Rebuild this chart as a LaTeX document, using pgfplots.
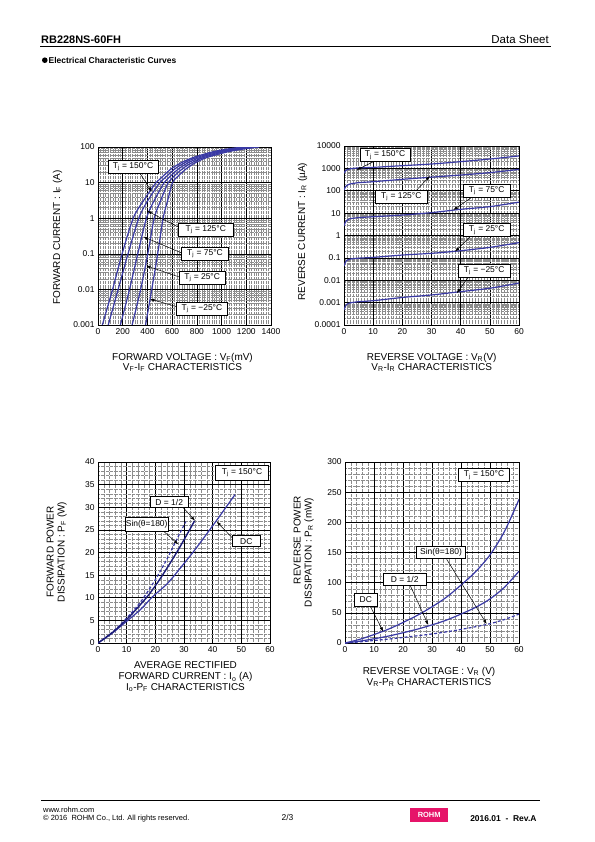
\documentclass[border=0pt]{standalone}
\usepackage{fontspec}
\setmainfont{Liberation Sans}
\usepackage{pgfplots}
\pgfplotsset{compat=1.18}
\usetikzlibrary{arrows.meta}
\definecolor{cv}{RGB}{58,58,165}
\definecolor{cvd}{RGB}{28,28,120}
\definecolor{rohm}{RGB}{230,20,105}
\pgfplotsset{
 ds/.style={
  scale only axis, anchor=south west,
  axis line style={line width=0.8pt},
  grid=both,
  major grid style={black,line width=0.55pt},
  minor grid style={black!45,line width=0.3pt,densely dotted},
  major tick length=0pt, minor tick length=0pt,
  ticklabel style={font=\fontsize{8.5}{10}\selectfont},
  /pgf/number format/assume math mode=true,
  /pgf/number format/1000 sep={},
 }
}
\tikzset{
 arr/.style={-{Latex[length=4.5pt,width=3.2pt]},line width=0.5pt},
 bx/.style={draw=black,fill=white,line width=0.6pt,inner sep=0pt,font=\fontsize{8.5}{10}\selectfont},
 lb/.style={inner sep=0pt,font=\fontsize{10}{11}\selectfont},
 cu/.style={cv,line width=1.2pt,smooth},
}
\begin{document}
\begin{tikzpicture}
\fill[white] (0,0) rectangle (595bp,-842bp);
\useasboundingbox (0,0) rectangle (595bp,-842bp);

% ---------- VF-IF ----------
\begin{axis}[ds, at={(98bp,-325bp)}, width=173bp, height=178bp,
 xmin=0,xmax=1400, ymode=log, ymin=0.001,ymax=100,
 xtick={0,200,400,600,800,1000,1200,1400}, minor x tick num=9,
 ytick={0.001,0.01,0.1,1,10,100}, yticklabels={0.001,0.01,0.1,1,10,100},
 minor ytick={2e-3,3e-3,4e-3,5e-3,6e-3,7e-3,8e-3,9e-3,2e-2,3e-2,4e-2,5e-2,6e-2,7e-2,8e-2,9e-2,0.2,0.3,0.4,0.5,0.6,0.7,0.8,0.9,2,3,4,5,6,7,8,9,20,30,40,50,60,70,80,90}]
\addplot[cu] coordinates {(35,0.001)(118,0.01)(195,0.1)(285,1)(365,3)(470,10)(515,14)(610,27)(745,47)(920,72)(1050,88)(1170,100)};
\addplot[cu] coordinates {(83,0.001)(163,0.01)(243,0.1)(330,1)(400,3)(500,10)(545,14)(640,27)(772,47)(950,72)(1085,88)(1205,100)};
\addplot[cu] coordinates {(181,0.001)(255,0.01)(322,0.1)(392,1)(452,3)(535,10)(575,14)(670,27)(800,47)(980,72)(1118,88)(1240,100)};
\addplot[cu] coordinates {(276,0.001)(345,0.01)(403,0.1)(455,1)(505,3)(568,10)(605,14)(700,27)(828,47)(1010,72)(1150,88)(1272,100)};
\addplot[cu] coordinates {(385,0.001)(435,0.01)(483,0.1)(527,1)(562,3)(603,10)(638,14)(730,27)(855,47)(1040,72)(1180,88)(1305,100)};
\end{axis}

% ---------- VR-IR ----------
\begin{axis}[ds, at={(344bp,-325bp)}, width=175bp, height=179bp,
 xmin=0,xmax=60, ymode=log, ymin=0.0001,ymax=10000,
 xtick={0,10,...,60}, minor x tick num=9,
 ytick={0.0001,0.001,0.01,0.1,1,10,100,1000,10000}, yticklabels={0.0001,0.001,0.01,0.1,1,10,100,1000,10000},
 minor ytick={2e-4,3e-4,4e-4,5e-4,6e-4,7e-4,8e-4,9e-4,2e-3,3e-3,4e-3,5e-3,6e-3,7e-3,8e-3,9e-3,2e-2,3e-2,4e-2,5e-2,6e-2,7e-2,8e-2,9e-2,0.2,0.3,0.4,0.5,0.6,0.7,0.8,0.9,2,3,4,5,6,7,8,9,20,30,40,50,60,70,80,90,200,300,400,500,600,700,800,900,2000,3000,4000,5000,6000,7000,8000,9000}]
\addplot[cu] coordinates {(0,600)(0.5,780)(1,870)(2,950)(5,1050)(10,1110)(20,1320)(30,1570)(40,2000)(50,2620)(60,3600)};
\addplot[cu] coordinates {(0,108)(0.5,150)(1,175)(2,200)(5,230)(10,254)(20,324)(30,405)(40,505)(50,645)(60,900)};
\addplot[cu] coordinates {(0,2.65)(0.5,4)(1,4.8)(2,5.6)(5,6.3)(10,6.9)(20,8.2)(30,10.5)(40,14.8)(50,19.5)(60,31)};
\addplot[cu] coordinates {(0,0.043)(0.5,0.065)(1,0.078)(2,0.088)(5,0.097)(10,0.105)(20,0.134)(30,0.16)(40,0.209)(50,0.295)(60,0.48)};
\addplot[cu] coordinates {(0,0.00047)(0.5,0.0007)(1,0.00085)(2,0.00097)(5,0.0011)(10,0.00122)(20,0.0017)(30,0.0022)(40,0.0031)(50,0.0044)(60,0.0075)};
\end{axis}

% ---------- Io-PF ----------
\begin{axis}[ds, at={(98bp,-643bp)}, width=172bp, height=181bp,
 xmin=0,xmax=60, ymin=0,ymax=40,
 xtick={0,10,...,60}, ytick={0,5,...,40}, minor x tick num=4, minor y tick num=4]
\addplot[cu] coordinates {(0,0)(5,2.2)(10,4.8)(15,7.5)(19,10.2)(24,13)(28,16)(33.8,20.6)(40.8,26.6)(47.8,32.8)};
\addplot[cu,densely dashed] coordinates {(0,0)(5,2.4)(10,5.5)(15,9.2)(20,14)(24,18.5)(27,22.3)(30.6,26.8)};
\addplot[cu,cvd,line width=1.4pt] coordinates {(0,0)(5,2.3)(10,5.2)(14.1,8)(18,10.9)(22.2,14.7)(28,20.6)(33.7,27)};
\end{axis}

% ---------- VR-PR ----------
\begin{axis}[ds, at={(345bp,-643bp)}, width=174bp, height=181bp,
 xmin=0,xmax=60, ymin=0,ymax=300,
 xtick={0,10,...,60}, ytick={0,50,...,300}, minor x tick num=4, minor y tick num=4]
\addplot[cu] coordinates {(0,0)(5,6)(10,14)(15,23)(20,34)(25,46)(30,60)(35,76)(40,96)(45,118)(50,146)(55,185)(60,238)};
\addplot[cu] coordinates {(0,0)(5,3)(10,7)(15,11.5)(20,17)(25,23)(30,30)(35,38)(40,48)(45,59)(50,73)(55,92.5)(60,119)};
\addplot[cu,densely dashed] coordinates {(0,0)(5,1.8)(10,4.2)(15,6.5)(20,9.2)(25,12)(30,15)(35,18.5)(40,22.5)(45,27)(50,32)(55,39)(60,48)};
\end{axis}

\begin{scope}[x=1bp,y=-1bp]
% header
\node[anchor=base west,inner sep=0pt,font=\bfseries\fontsize{11}{13}\selectfont] at (41,43) {RB228NS-60FH};
\node[anchor=base east,inner sep=0pt,font=\fontsize{11.5}{13}\selectfont] at (549,43) {Data Sheet};
\draw[line width=0.8pt] (40,46) -- (551,46);
\fill (44.8,60.2) circle (2.8bp);
\node[anchor=base west,inner sep=0pt,font=\bfseries\fontsize{8.5}{10}\selectfont] at (48.5,63.5) {Electrical Characteristic Curves};

% axis 1 labels
\node[lb,anchor=base] at (182.5,360) {FORWARD VOLTAGE : V\textsubscript{F}(mV)};
\node[lb,anchor=base] at (182.5,370.5) {V\textsubscript{F}-I\textsubscript{F} CHARACTERISTICS};
\node[lb,anchor=base,rotate=90] at (60,237.5) {FORWARD CURRENT : I\textsubscript{F} (A)};
\draw[arr] (140,173.3) -- (151.7,191.7);
\draw[arr] (178.3,227) -- (147.3,211);
\draw[arr] (181.7,253) -- (143.3,236.7);
\draw[arr] (179.3,277) -- (146,265.7);
\draw[arr] (176.7,306.7) -- (150,299);
\node[bx,minimum width=50bp,minimum height=13.3bp] at (133,166.7) {T\textsubscript{j} = 150°C};
\node[bx,minimum width=55bp,minimum height=12.7bp] at (205.8,229.7) {T\textsubscript{j} = 125°C};
\node[bx,minimum width=46.7bp,minimum height=12.7bp] at (205,253.7) {T\textsubscript{j} = 75°C};
\node[bx,minimum width=45.7bp,minimum height=13bp] at (202.2,277.5) {T\textsubscript{j} = 25°C};
\node[bx,minimum width=50.7bp,minimum height=12.7bp] at (202,308.7) {T\textsubscript{j} = −25°C};

% axis 2 labels
\node[lb,anchor=base] at (431.7,360) {REVERSE VOLTAGE : V\textsubscript{R}(V)};
\node[lb,anchor=base] at (431.7,370.5) {V\textsubscript{R}-I\textsubscript{R} CHARACTERISTICS};
\node[lb,anchor=base,rotate=90] at (305,231.7) {REVERSE CURRENT : I\textsubscript{R} (µA)};
\draw[arr] (373.3,161.7) -- (356.7,170);
\draw[arr] (416.7,190) -- (430,176);
\draw[arr] (471.7,197.3) -- (453.3,210);
\draw[arr] (470,236.7) -- (455,251.7);
\draw[arr] (468.3,277.3) -- (456.7,293.3);
\node[bx,minimum width=50bp,minimum height=13.3bp] at (385,155) {T\textsubscript{j} = 150°C};
\node[bx,minimum width=52.7bp,minimum height=13.3bp] at (401.3,196.7) {T\textsubscript{j} = 125°C};
\node[bx,minimum width=46.7bp,minimum height=13.3bp] at (486.7,190.7) {T\textsubscript{j} = 75°C};
\node[bx,minimum width=46.7bp,minimum height=13.3bp] at (486.7,230) {T\textsubscript{j} = 25°C};
\node[bx,minimum width=51.7bp,minimum height=13.3bp] at (484.2,270.7) {T\textsubscript{j} = −25°C};

% axis 3 labels
\node[lb,anchor=base] at (185.5,668.3) {AVERAGE RECTIFIED};
\node[lb,anchor=base] at (185.5,679.7) {FORWARD CURRENT : I\textsubscript{o} (A)};
\node[lb,anchor=base] at (185.5,690) {I\textsubscript{o}-P\textsubscript{F} CHARACTERISTICS};
\node[lb,anchor=base,rotate=90] at (53.5,552) {FORWARD POWER};
\node[lb,anchor=base,rotate=90] at (64.5,552) {DISSIPATION : P\textsubscript{F} (W)};
\draw[arr] (183.3,507.7) -- (195,520.7);
\draw[arr] (163.3,531) -- (178.3,544.3);
\draw[arr] (232.7,538.3) -- (216.7,521.7);
\node[bx,minimum width=52.7bp,minimum height=15bp] at (242,472.7) {T\textsubscript{j} = 150°C};
\node[bx,minimum width=38.3bp,minimum height=11bp] at (169.2,502.2) {D = 1/2};
\node[bx,minimum width=43.3bp,minimum height=13.3bp] at (146.7,524.3) {Sin(θ=180)};
\node[bx,minimum width=27.3bp,minimum height=11bp] at (246.3,541.2) {DC};

% axis 4 labels
\node[lb,anchor=base] at (429,674.5) {REVERSE VOLTAGE : V\textsubscript{R} (V)};
\node[lb,anchor=base] at (429,685) {V\textsubscript{R}-P\textsubscript{R} CHARACTERISTICS};
\node[lb,anchor=base,rotate=90] at (300.5,540) {REVERSE POWER};
\node[lb,anchor=base,rotate=90] at (311.5,552.5) {DISSIPATION : P\textsubscript{R} (mW)};
\draw[arr] (446.7,559.3) -- (486.7,624);
\draw[arr] (410,585) -- (428.3,625);
\draw[arr] (370,605.7) -- (383.3,631.7);
\node[bx,minimum width=51bp,minimum height=13bp] at (484,475) {T\textsubscript{j} = 150°C};
\node[bx,minimum width=49bp,minimum height=12.5bp] at (441,552.5) {Sin(θ=180)};
\node[bx,minimum width=42.7bp,minimum height=12.3bp] at (404.7,579.5) {D = 1/2};
\node[bx,minimum width=23bp,minimum height=12.7bp] at (365.8,599.7) {DC};

% footer
\draw[line width=0.8pt] (41,800) -- (540,800);
\node[anchor=base west,inner sep=0pt,font=\fontsize{7.5}{9}\selectfont] at (43,812) {www.rohm.com};
\node[anchor=base west,inner sep=0pt,font=\fontsize{7.5}{9}\selectfont] at (43,820.5) {© 2016\ \ ROHM Co., Ltd. All rights reserved.};
\node[anchor=base,inner sep=0pt,font=\fontsize{8.5}{10}\selectfont] at (287.5,820.5) {2/3};
\fill[rohm] (410,807.7) rectangle (448.3,821.7);
\node[white,inner sep=0pt,font=\bfseries\fontsize{7.5}{8}\selectfont] at (429.2,814.7) {ROHM};
\node[anchor=base east,inner sep=0pt,font=\bfseries\fontsize{8.5}{10}\selectfont] at (536.7,821) {2016.01\ \ -\ \ Rev.A};
\end{scope}
\end{tikzpicture}
\end{document}
